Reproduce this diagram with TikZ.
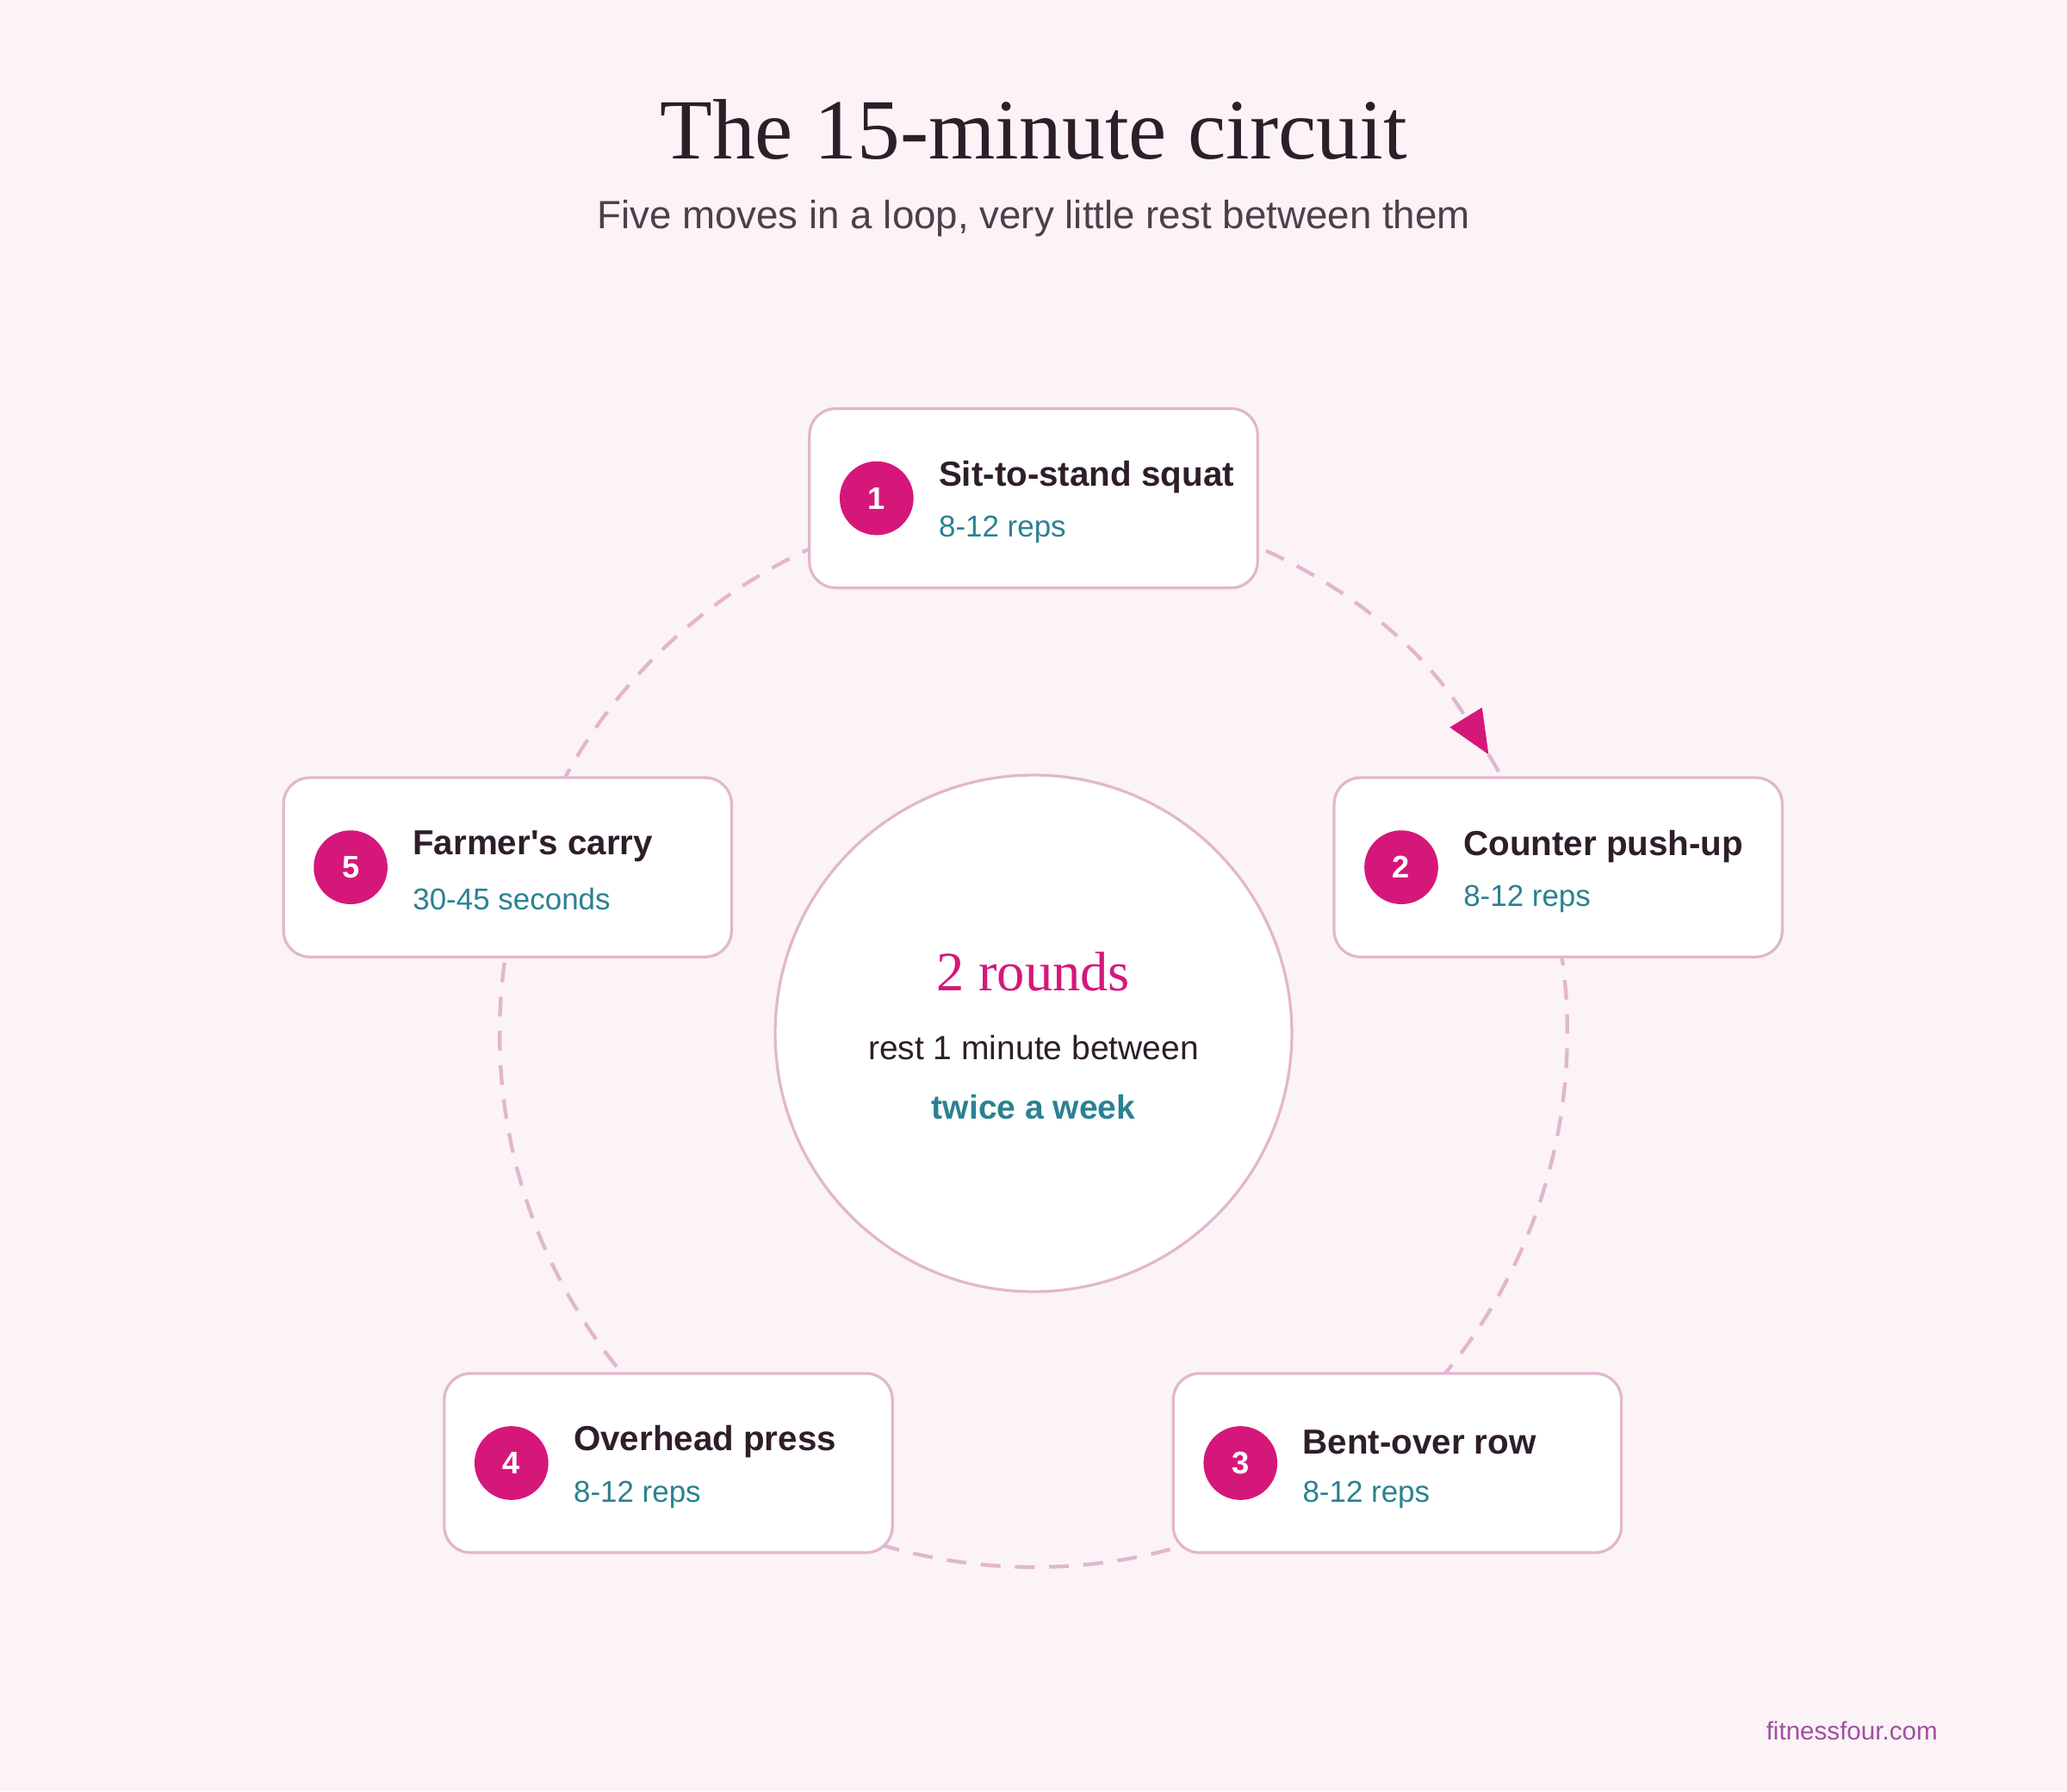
\documentclass[tikz,border=0pt]{standalone}
\usepackage{fontspec}
\setmainfont{Liberation Sans}
\newfontfamily\titlefont{Liberation Serif}
\usetikzlibrary{arrows.meta}
\definecolor{bgpink}{HTML}{FBF3F6}
\definecolor{ringpink}{HTML}{E2B6CF}
\definecolor{magenta}{HTML}{D6177A}
\definecolor{tealtext}{HTML}{2A8290}
\definecolor{darktext}{HTML}{2E1E2A}
\definecolor{footpurple}{HTML}{A050A0}

\tikzset{
  move/.style={draw=ringpink, line width=1.2pt, fill=white, rounded corners=0.4cm,
    minimum width=6.8cm, minimum height=2.72cm},
  badge/.style={circle, fill=magenta, minimum size=1.12cm, inner sep=0pt,
    text=white, font=\bfseries\fontsize{13.5}{14}\selectfont},
  movename/.style={anchor=west, text=darktext, font=\bfseries\fontsize{15}{17}\selectfont},
  movereps/.style={anchor=west, text=tealtext, font=\fontsize{13}{15}\selectfont},
  loop/.style={draw=ringpink, line width=1.6pt, dash pattern=on 0.3cm off 0.22cm}
}

\begin{document}
\begin{tikzpicture}[x=0.02cm, y=-0.02cm, line join=round]

\fill[bgpink] (0,0) rectangle (1568,1359);
\useasboundingbox (0,0) rectangle (1568,1359);

\node[text=darktext, font=\titlefont\fontsize{37}{40}\selectfont] (title) at (784,98) {The 15-minute circuit};
\node[text=darktext!85, font=\fontsize{17}{19}\selectfont] (subtitle) at (784,166) {Five moves in a loop, very little rest between them};

% the loop
\coordinate (hub) at (784,784);
\draw[loop, -{Triangle[length=0.66cm, width=0.56cm, fill=magenta, color=magenta]}]
  (hub) ++(90:8.1cm) arc[start angle=90, end angle=31.5, radius=8.1cm];
\draw[loop] (hub) ++(31.5:8.1cm) arc[start angle=31.5, end angle=-270, radius=8.1cm];

% centre
\node[circle, draw=ringpink, line width=1.2pt, fill=white, minimum size=7.84cm] (centre) at (hub) {};
\node[text=magenta, font=\titlefont\fontsize{24}{26}\selectfont] (rounds) at (784,737) {2 rounds};
\node[text=darktext, font=\fontsize{14.5}{16}\selectfont] (rest) at (784,795) {rest 1 minute between};
\node[text=tealtext, font=\bfseries\fontsize{14.5}{16}\selectfont] (week) at (784,840) {twice a week};

% moves
\node[move] (m1) at (784,378) {};
\node[move] (m2) at (1182,658) {};
\node[move] (m3) at (1060,1110) {};
\node[move] (m4) at (507,1110) {};
\node[move] (m5) at (385,658) {};

\node[badge] (b1) at ([xshift=1.04cm]m1.west) {1};
\node[movename] (n1) at ([xshift=1.86cm,yshift=0.32cm]m1.west) {Sit-to-stand squat};
\node[movereps] (r1) at ([xshift=1.86cm,yshift=-0.48cm]m1.west) {8-12 reps};

\node[badge] (b2) at ([xshift=1.04cm]m2.west) {2};
\node[movename] (n2) at ([xshift=1.86cm,yshift=0.32cm]m2.west) {Counter push-up};
\node[movereps] (r2) at ([xshift=1.86cm,yshift=-0.48cm]m2.west) {8-12 reps};

\node[badge] (b3) at ([xshift=1.04cm]m3.west) {3};
\node[movename] (n3) at ([xshift=1.86cm,yshift=0.32cm]m3.west) {Bent-over row};
\node[movereps] (r3) at ([xshift=1.86cm,yshift=-0.48cm]m3.west) {8-12 reps};

\node[badge] (b4) at ([xshift=1.04cm]m4.west) {4};
\node[movename] (n4) at ([xshift=1.86cm,yshift=0.32cm]m4.west) {Overhead press};
\node[movereps] (r4) at ([xshift=1.86cm,yshift=-0.48cm]m4.west) {8-12 reps};

\node[badge] (b5) at ([xshift=1.04cm]m5.west) {5};
\node[movename] (n5) at ([xshift=1.86cm,yshift=0.32cm]m5.west) {Farmer\textquotesingle s carry};
\node[movereps] (r5) at ([xshift=1.86cm,yshift=-0.48cm]m5.west) {30-45 seconds};

\node[anchor=east, text=footpurple, font=\fontsize{11}{13}\selectfont] (site) at (1476,1313) {fitnessfour.com};

\end{tikzpicture}
\end{document}
